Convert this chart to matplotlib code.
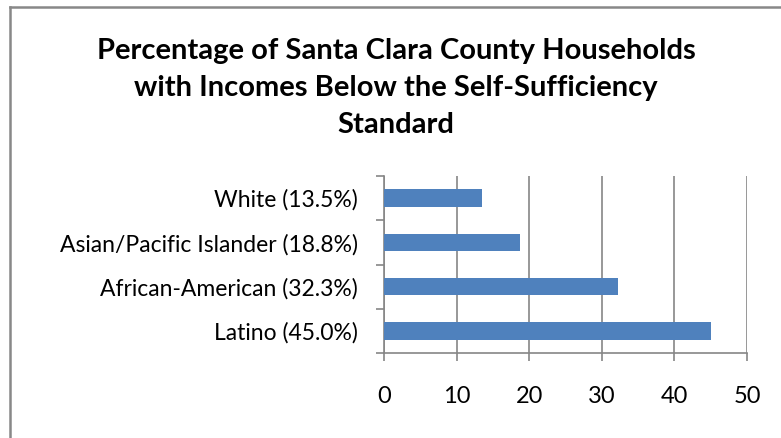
import matplotlib.pyplot as plt
from matplotlib.lines import Line2D

groups = ['Latino (45.0%)', 'African-American (32.3%)',
          'Asian/Pacific Islander (18.8%)', 'White (13.5%)']
pct = [45.0, 32.3, 18.8, 13.5]
xticks = [0, 10, 20, 30, 40, 50]

plt.rcParams['font.family'] = ['Lato', 'DejaVu Sans']

W, H = 781, 438
fig = plt.figure(figsize=(W / 100, H / 100), dpi=100)

# chart frame (only left and top edges fall inside the image)
fig.add_artist(Line2D([10 / W, 10 / W], [0, 1 - 7 / H], color='#888888', lw=1.8,
                      transform=fig.transFigure))
fig.add_artist(Line2D([10 / W, 1], [1 - 7 / H, 1 - 7 / H], color='#888888', lw=1.8,
                      transform=fig.transFigure))

fig.text(396 / W, 1 - 88 / H,
         'Percentage of Santa Clara County Households\nwith Incomes Below the Self-Sufficiency\nStandard',
         ha='center', va='center', fontsize=21, fontweight='bold', linespacing=1.52)

left, right = 384 / W, 747 / W
bottom, top = 1 - 353 / H, 1 - 176 / H
ax = fig.add_axes([left, bottom, right - left, top - bottom])

ax.barh(range(len(pct)), pct, height=0.4, color='#4F81BD', zorder=3)
ax.set_xlim(0, 50)
ax.set_ylim(-0.5, len(pct) - 0.5)
ax.set_xticks(xticks)
ax.set_xticklabels([str(t) for t in xticks], fontsize=17)
ax.set_yticks(range(len(pct)))
ax.set_yticklabels(groups, fontsize=16.5)
ax.set_yticks([i - 0.5 for i in range(len(pct) + 1)], minor=True)

ax.grid(axis='x', color='#868686', lw=1.2, zorder=0)
for s in ['top', 'right']:
    ax.spines[s].set_visible(False)
for s in ['left', 'bottom']:
    ax.spines[s].set_color('#868686')
    ax.spines[s].set_linewidth(1.2)

ax.tick_params(axis='y', which='major', length=0, pad=19)
ax.tick_params(axis='y', which='minor', length=6, width=1.2, color='#868686')
ax.tick_params(axis='x', length=6, width=1.2, color='#868686', pad=18)

fig.savefig('out.png', dpi=100)
